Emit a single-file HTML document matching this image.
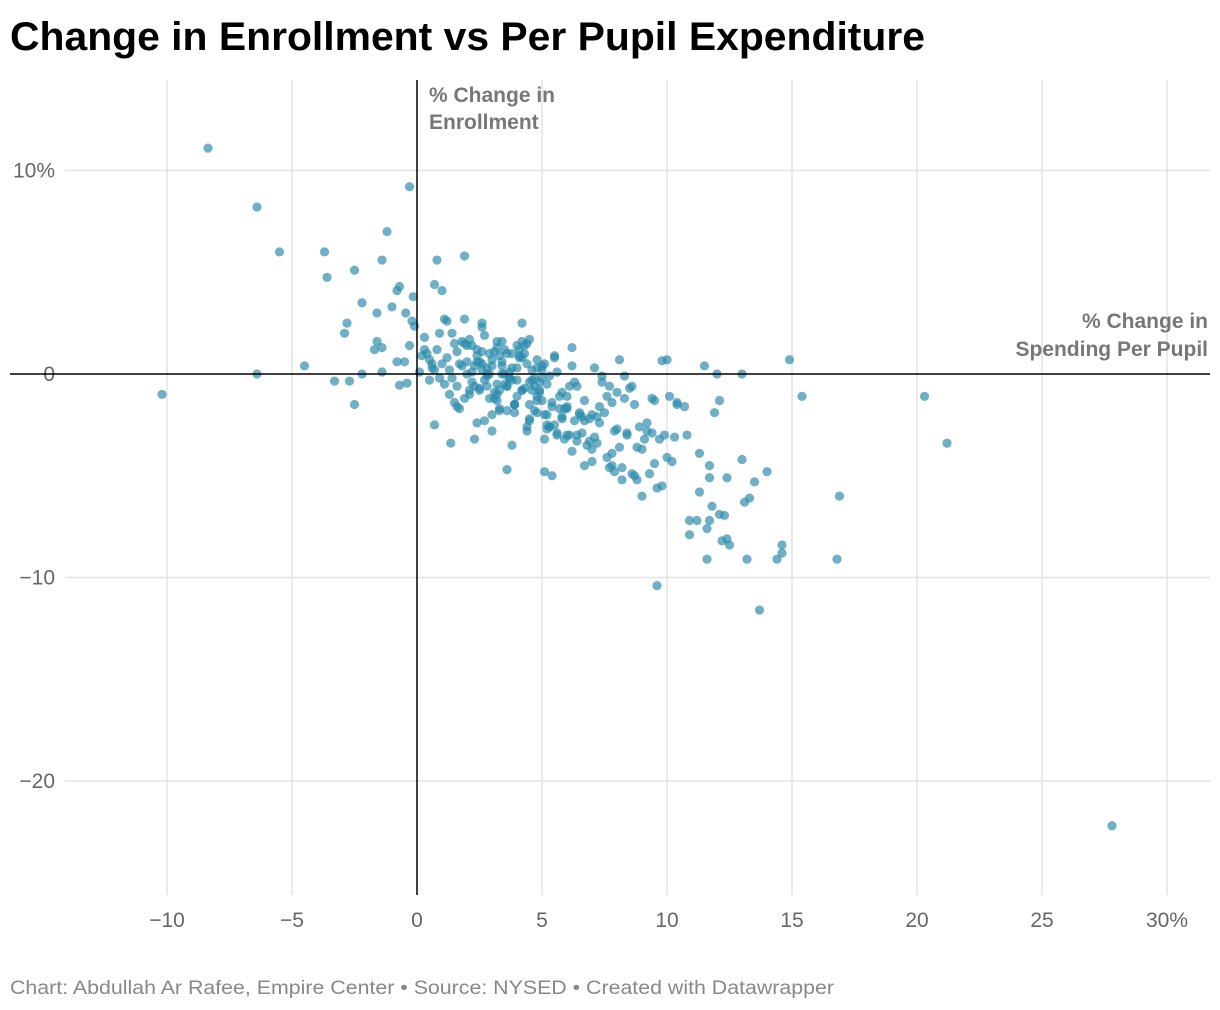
<!DOCTYPE html>
<html><head><meta charset="utf-8">
<style>
body{margin:0;background:#fff;width:1220px;height:1010px;overflow:hidden;font-family:"Liberation Sans",sans-serif}
svg{position:absolute;left:0;top:0}
</style></head>
<body>
<svg width="1220" height="1010">
<text x="10" y="50" font-size="40" font-weight="bold" fill="#000" textLength="915" lengthAdjust="spacingAndGlyphs">Change in Enrollment vs Per Pupil Expenditure</text>
<g id="grid"></g>
<g id="pts"></g>
<g id="axes"></g>
<text x="429" y="102" font-size="21" font-weight="bold" fill="#777"><tspan x="429">% Change in</tspan><tspan x="429" dy="27">Enrollment</tspan></text>
<text x="1208" y="328" font-size="21" font-weight="bold" fill="#777" text-anchor="end"><tspan x="1208">% Change in</tspan><tspan x="1208" dy="28">Spending Per Pupil</tspan></text>
<text x="10" y="994" font-size="19" fill="#888" textLength="824" lengthAdjust="spacingAndGlyphs">Chart: Abdullah Ar Rafee, Empire Center • Source: NYSED • Created with Datawrapper</text>
</svg>
<script>
const xTicks=[-10,-5,0,5,10,15,20,25,30];
const xTickLabels=["\u221210","\u22125","0","5","10","15","20","25","30%"];
const yTicks=[10,0,-10,-20];
const yTickLabels=["10%","0","\u221210","\u221220"];
const xs=[-8.36,-0.3,-6.4,-5.5,-3.7,-1.2,-3.6,-2.5,-1.4,0.8,1.9,-10.2,-6.4,-4.5,-3.3,-2.7,-2.5,-2.2,-2.2,-2.8,-2.9,-1.6,-1.0,-0.8,-0.7,-1.6,-1.7,-1.4,-1.4,-0.5,-0.8,-0.7,-0.4,-0.45,-0.15,-0.2,-0.1,-0.3,0.7,1.0,0.7,1.35,14.9,15.4,20.3,21.2,16.9,16.8,14.6,14.6,14.4,13.7,13.2,9.6,11.6,12.4,12.5,12.2,13.0,13.0,14.0,13.5,13.3,13.1,27.8,12.0,11.5,11.9,12.1,11.7,12.4,10.9,11.2,11.7,11.8,12.1,12.3,11.3,10.9,11.6,10.8,11.3,11.7,9.8,10.0,10.4,10.7,
0.2,0.4,0.6,0.8,1.0,1.2,1.4,1.6,1.8,2.0,2.2,2.4,2.6,2.8,3.0,3.2,3.4,3.6,3.8,4.0,4.2,4.4,4.6,4.8,5.0,5.2,5.4,5.6,5.8,6.0,
0.3,0.7,1.1,1.5,1.9,2.3,2.7,3.1,3.5,3.9,4.3,4.7,5.1,5.5,5.9,6.3,6.7,7.1,7.5,7.9,8.3,8.7,9.1,9.5,
0.5,0.9,1.3,1.7,2.1,2.5,2.9,3.3,3.7,4.1,4.5,4.9,5.3,5.7,6.1,6.5,6.9,7.3,7.7,8.1,8.5,8.9,9.3,9.7,10.1,
1.2,1.6,2.0,2.4,2.8,3.2,3.6,4.0,4.4,4.8,5.2,5.6,6.0,6.4,6.8,7.2,7.6,8.0,8.4,8.8,9.2,9.6,10.0,10.4,
2.1,2.6,3.0,3.5,3.9,4.3,4.8,5.3,5.8,6.2,6.6,7.0,7.4,7.8,8.2,8.6,9.0,9.4,9.8,
1.5,2.3,3.1,3.8,4.6,5.4,6.2,7.0,7.8,8.6,9.4,10.2,
0.9,1.8,2.7,3.4,4.2,5.0,5.7,6.4,7.1,7.7,8.3,9.0,
2.5,3.3,4.1,4.9,5.6,6.3,7.3,8.1,8.8,9.5,
0.6,1.4,2.2,2.9,3.7,4.5,5.2,6.0,6.9,7.6,8.4,9.2,
3.6,4.4,5.5,6.7,7.9,8.7,9.9,10.3,
1.7,2.8,4.0,5.1,6.5,8.0,2.4,3.2,4.7,5.9,7.4,0.1,0.3,0.5,1.1,1.9,2.6,3.4,4.2,5.0,6.2,
2.2,2.5,2.7,3.0,3.3,3.5,3.8,4.1,4.3,4.6,4.9,5.1,2.3,2.6,2.9,3.2,3.4,3.7,4.0,4.2,4.5,4.8,5.0,5.3,
1.9,2.1,2.4,2.8,3.1,3.6,3.9,4.4,4.7,5.2,5.5,5.8,6.1,6.4,6.7,7.0,3.0,3.3,3.6,3.9,4.2,4.5,4.8,5.1,
1.3,1.6,2.0,2.6,3.2,3.8,4.5,5.4,6.0,6.6,7.2,7.8,8.2];
const ys=[11.1,9.2,8.2,6.0,6.0,7.0,4.75,5.1,5.6,5.6,5.8,-1.0,0,0.4,-0.35,-0.35,-1.5,0,3.5,2.5,2.0,3.0,3.3,4.1,4.3,1.6,1.2,1.3,0.1,0.6,0.6,-0.55,-0.45,3.0,3.8,2.6,2.35,1.4,4.4,4.1,-2.5,-3.4,0.7,-1.1,-1.1,-3.4,-6.0,-9.1,-8.4,-8.8,-9.1,-11.6,-9.1,-10.4,-9.1,-8.1,-8.4,-8.2,0,-4.2,-4.8,-5.3,-6.1,-6.3,-22.2,0,0.4,-1.9,-1.3,-5.1,-5.1,-7.2,-7.2,-7.2,-6.5,-6.9,-6.95,-5.8,-7.9,-7.6,-3.0,-3.9,-4.5,0.65,0.7,-1.4,-1.6,
0.9,1.0,0.3,1.2,0.5,0.8,-0.2,1.1,0.4,0.6,-0.4,0.9,0.2,-0.1,0.7,1.3,0.0,-0.6,1.0,0.3,-0.8,0.5,-0.3,-1.1,0.2,-0.5,-1.4,0.1,-0.9,-1.6,
1.8,0.2,-0.5,1.5,-1.2,0.4,1.9,-0.9,1.2,-1.5,1.0,-0.2,-2.0,0.8,-1.7,-0.4,-2.3,0.3,-1.9,-2.8,-0.1,-1.5,-3.2,-1.3,
-0.3,2.0,-1.0,0.5,1.7,-0.7,1.0,-1.8,0.1,1.2,-2.2,-0.8,-2.6,-1.1,-3.0,-1.9,-3.3,-2.4,-0.6,-3.6,-0.7,-2.6,-4.9,-3.2,-1.1,
2.6,-1.6,1.4,-2.4,0.3,-1.3,-0.6,-0.3,-2.8,0.7,-2.0,-3.0,-1.7,-0.6,-3.5,-2.1,-4.1,-0.9,-3.0,-5.2,-2.4,-5.6,-4.1,-1.5,
-1.0,2.5,-2.8,0.0,-1.9,1.4,-1.3,-2.6,-2.1,-3.8,-2.9,-4.3,-0.4,-3.9,-5.2,-0.6,-3.7,-2.9,-5.5,
-1.4,-3.2,1.1,-3.5,-0.8,-5.0,1.3,-3.7,-4.5,-4.9,-1.2,-4.3,
-0.2,1.6,-2.3,0.4,1.6,-0.2,-1.7,-3.3,-3.1,-4.6,-1.2,-6.0,
-0.8,-1.7,0.9,-0.4,-2.9,-2.3,-1.6,0.7,-3.6,-4.4,
0.5,2.0,1.4,-1.2,-0.2,-1.5,-2.7,-3.0,-2.2,-1.1,-2.9,-2.8,
-4.7,-2.6,-2.5,-4.5,-4.8,-5.0,-3.0,-3.1,
-1.7,-0.6,-1.1,-4.8,-2.0,-2.7,0.6,-0.5,-0.6,-3.2,-0.1,0.1,1.2,0.7,2.7,2.7,2.3,1.6,2.5,0.4,0.4,
0.1,0.6,-0.3,0.4,0.9,-0.5,0.3,0.8,-0.7,0.2,-0.9,0.5,-0.6,1.1,0.0,-1.0,0.6,-0.2,1.4,-0.8,-0.4,0.3,-1.3,-0.1,
1.5,-0.8,1.2,0.0,-1.2,1.0,-1.5,1.5,-1.8,-2.5,0.9,-2.2,-0.6,-3.0,-1.3,-2.0,-2.0,-0.8,-1.8,-1.5,0.8,-2.3,-1.9,-3.2,
0.2,-0.6,0.0,0.5,1.6,-0.3,1.7,-1.6,-1.1,-2.1,-3.4,-1.4,-4.6];
const X=v=>417+v*25, Y=v=>374-v*20.35;
const NS="http://www.w3.org/2000/svg";
const grid=document.getElementById('grid'),axes=document.getElementById('axes'),pts=document.getElementById('pts');
function mk(tag,attrs,parent){const e=document.createElementNS(NS,tag);for(const k in attrs)e.setAttribute(k,attrs[k]);parent.appendChild(e);return e;}
xTicks.forEach((t,i)=>{
 if(t!==0){const l=mk('line',{x1:X(t),x2:X(t),y1:80,y2:895,stroke:'#e3e3e3','stroke-width':1.5},grid);
 
 }
 const tx=mk('text',{x:X(t),y:927,'font-size':21,fill:'#666','text-anchor':'middle'},axes);
 tx.textContent=xTickLabels[i];
 
 
});
yTicks.forEach((t,i)=>{
 if(t!==0){const l=mk('line',{x1:65,x2:1210,y1:Y(t),y2:Y(t),stroke:'#e3e3e3','stroke-width':1.5},grid);
 
 }
 const tx=mk('text',{x:55,y:Y(t)+7,'font-size':21,fill:'#666','text-anchor':'end'},axes);
 tx.textContent=yTickLabels[i];
 
 
});
const va=mk('line',{x1:X(0),x2:X(0),y1:80,y2:895,stroke:'#000','stroke-width':1.5},axes);


const ha=mk('line',{x1:10,x2:1210,y1:Y(0),y2:Y(0),stroke:'#000','stroke-width':1.5},axes);


xs.forEach((v,i)=>{
 const c=mk('circle',{cx:X(v),cy:Y(ys[i]),r:4.6,fill:'#2b8bab','fill-opacity':0.68},pts);
 
 
});
</script>
</body></html>
